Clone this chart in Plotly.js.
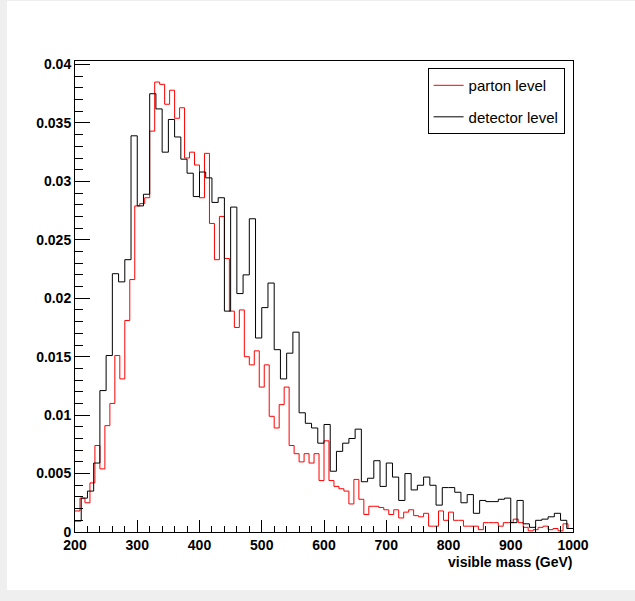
<!DOCTYPE html>
<html>
<head>
<meta charset="utf-8">
<script src="https://cdn.plot.ly/plotly-3.0.1.min.js"></script>
<style>
  html, body { margin: 0; padding: 0; background: #efefef; width: 635px; height: 601px; overflow: hidden; }
  #chart { position: absolute; left: 7px; top: 1px; width: 628px; height: 589px; background: #fff; }
</style>
</head>
<body>
<div id="chart"></div>
<script>
// Binning
const xMin = 200, xMax = 1000;
const partonBins = 100;   // 8 GeV bins
const detectorBins = 80;  // 10 GeV bins

// Parton level (red), 100 bins 200-1000 GeV
const parton = [
  0.0018, 0.0029, 0.0025, 0.0042, 0.0074, 0.0054, 0.0091, 0.0110, 0.0151, 0.0131,
  0.0181, 0.0216, 0.0279, 0.0281, 0.0286, 0.0343, 0.0385, 0.0383, 0.0366, 0.0378,
  0.0354, 0.0363, 0.0320, 0.0325, 0.0314, 0.0286, 0.0324, 0.0264, 0.0233, 0.0270,
  0.0234, 0.0189, 0.0175, 0.0190, 0.0150, 0.0143, 0.0155, 0.0124, 0.0143, 0.0099,
  0.0089, 0.0109, 0.0124, 0.0074, 0.0067, 0.0060, 0.0067, 0.0059, 0.0067, 0.0044,
  0.0078, 0.0044, 0.0039, 0.0037, 0.0035, 0.0024, 0.0045, 0.0028, 0.0015, 0.0022,
  0.0022, 0.0021, 0.0019, 0.0015, 0.0019, 0.0012, 0.0017, 0.0019, 0.0014, 0.0013,
  0.0016, 0.0005, 0.0005, 0.0018, 0.0010, 0.0017, 0.0010, 0.0010, 0.0005, 0.0005,
  0.0005, 0.0002, 0.0008, 0.0008, 0.0008, 0.0005, 0.0008, 0.0008, 0.0011, 0.0008,
  0.0004, 0.0001, 0.0002, 0.0004, 0.0005, 0.0002, 0.0003, 0.0001, 0.0007, 0.0003
];

// Detector level (black), 80 bins 200-1000 GeV
const detector = [
  0.00094, 0.0029, 0.0035, 0.0059, 0.0121, 0.0151, 0.0221, 0.0214, 0.0233, 0.0339,
  0.0279, 0.0289, 0.0375, 0.0362, 0.0325, 0.0353, 0.0338, 0.0319, 0.0307, 0.0287,
  0.0308, 0.0303, 0.0282, 0.0286, 0.0189, 0.0278, 0.0204, 0.0220, 0.0268, 0.0166,
  0.0192, 0.0213, 0.0156, 0.0131, 0.0153, 0.0171, 0.0102, 0.0093, 0.0089, 0.0076,
  0.0092, 0.0052, 0.0069, 0.0076, 0.0080, 0.0088, 0.0043, 0.0046, 0.0061, 0.0039,
  0.0059, 0.0047, 0.0027, 0.0050, 0.0036, 0.0040, 0.0047, 0.0040, 0.0023, 0.0038,
  0.0038, 0.0034, 0.0025, 0.0032, 0.0016, 0.0027, 0.0026, 0.0026, 0.0028, 0.0029,
  0.0008, 0.0027, 0.0007, 0.0004, 0.0010, 0.0011, 0.0013, 0.0016, 0.0010, 0.0003
];

const yTickVals = [0, 0.005, 0.01, 0.015, 0.02, 0.025, 0.03, 0.035, 0.04];
const yTickText = ['0', '0.005', '0.01', '0.015', '0.02', '0.025', '0.03', '0.035', '0.04'];
const xTickVals = [200, 300, 400, 500, 600, 700, 800, 900, 1000];
const xTickText = ['200', '300', '400', '500', '600', '700', '800', '900', '1000'];

function stepTrace(vals, nb, name, color, group) {
  const w = (xMax - xMin) / nb;
  const xs = [], ys = [];
  for (let i = 0; i < nb; i++) { xs.push(xMin + i * w); ys.push(vals[i]); }
  xs.push(xMax); ys.push(vals[nb - 1]);
  return { x: xs, y: ys, type: 'scatter', mode: 'lines', name: name, legendgroup: group,
           line: { shape: 'hv', color: color, width: 1 }, hoverinfo: 'skip' };
}

const traces = [
  stepTrace(parton, partonBins, 'parton level', '#ff0000', 'g1'),
  stepTrace(detector, detectorBins, 'detector level', '#000000', 'g2')
];

const tickFont = { family: 'Liberation Sans, Arial, sans-serif', size: 14, color: '#000', weight: 'bold' };

const layout = {
  width: 628, height: 589,
  margin: { l: 68, r: 62, t: 60, b: 58 },
  paper_bgcolor: '#ffffff', plot_bgcolor: '#ffffff',
  showlegend: true,
  legend: {
    x: 0.708, y: 0.985, xanchor: 'left', yanchor: 'top',
    bgcolor: '#ffffff', bordercolor: '#000', borderwidth: 1,
    font: { family: 'Liberation Sans, Arial, sans-serif', size: 15, color: '#000' },
    tracegroupgap: 9, itemwidth: 30
  },
  xaxis: {
    range: [xMin, xMax], tickmode: 'array', tickvals: xTickVals, ticktext: xTickText,
    ticks: 'inside', ticklen: 12, tickwidth: 1, tickcolor: '#000',
    minor: { tickmode: 'linear', tick0: 200, dtick: 20, ticks: 'inside', ticklen: 6, tickcolor: '#000', showgrid: false },
    showline: true, linecolor: '#000', linewidth: 1, mirror: true,
    showgrid: false, zeroline: false, tickfont: tickFont
  },
  yaxis: {
    range: [0, 0.0403], tickmode: 'array', tickvals: yTickVals, ticktext: yTickText,
    ticks: 'inside', ticklen: 15, tickwidth: 1, tickcolor: '#000',
    minor: { tickmode: 'linear', tick0: 0, dtick: 0.001, ticks: 'inside', ticklen: 8, tickcolor: '#000', showgrid: false },
    showline: true, linecolor: '#000', linewidth: 1, mirror: true,
    showgrid: false, zeroline: false, tickfont: tickFont
  },
  annotations: [{
    text: 'visible mass (GeV)', xref: 'paper', yref: 'paper', x: 1.005, y: -0.064,
    xanchor: 'right', yanchor: 'middle', showarrow: false,
    font: { family: 'Liberation Sans, Arial, sans-serif', size: 14, color: '#000', weight: 'bold' }
  }]
};

Plotly.newPlot('chart', traces, layout, { staticPlot: true, displayModeBar: false });
</script>
</body>
</html>
